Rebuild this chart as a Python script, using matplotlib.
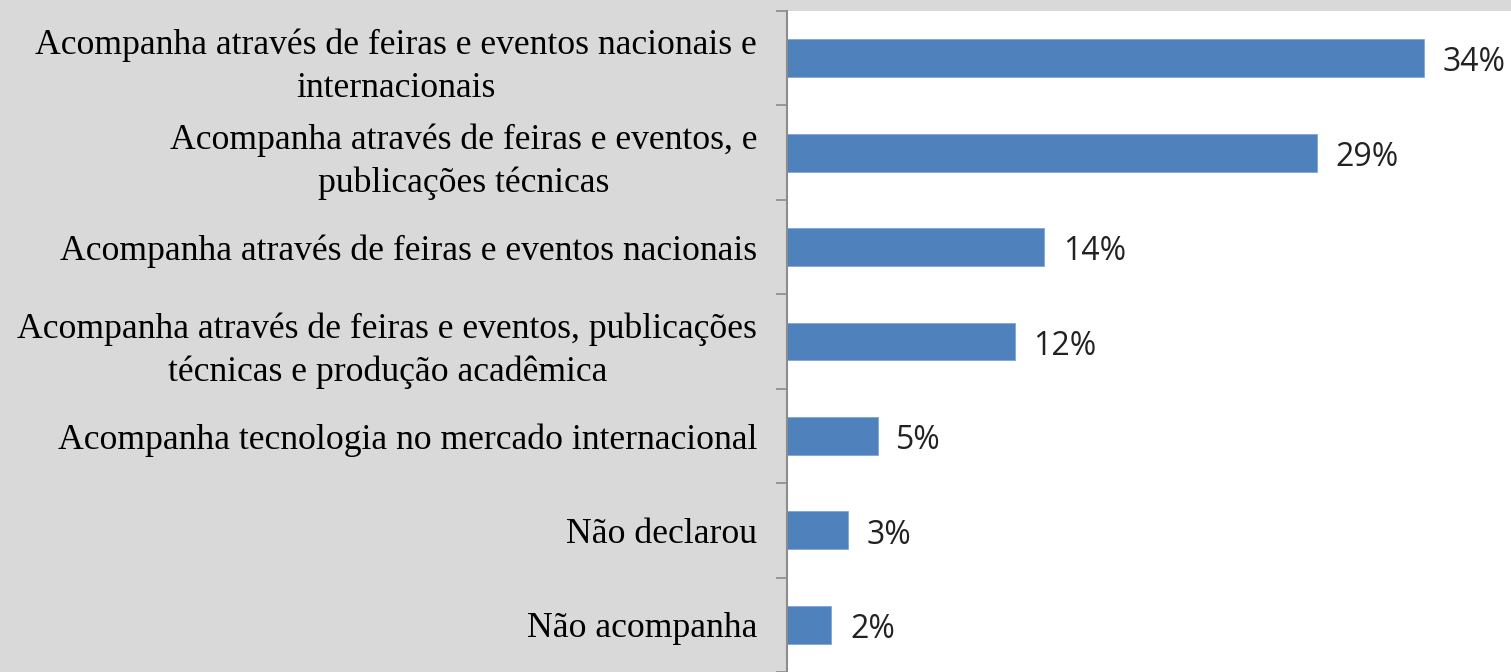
import matplotlib

matplotlib.use("Agg")
import matplotlib.pyplot as plt
import numpy as np

categories = [
    "Acompanha através de feiras e eventos nacionais e\ninternacionais",
    "Acompanha através de feiras e eventos, e\npublicações técnicas",
    "Acompanha através de feiras e eventos nacionais",
    "Acompanha através de feiras e eventos, publicações\ntécnicas e produção acadêmica",
    "Acompanha tecnologia no mercado internacional",
    "Não declarou",
    "Não acompanha",
]
# bar lengths (labels show the rounded figures)
values = [34.4, 28.6, 13.9, 12.3, 4.9, 3.3, 2.4]
value_labels = ["34%", "29%", "14%", "12%", "5%", "3%", "2%"]

bg = "#d9d9d9"
bar_color = "#4f81bd"

fig = plt.figure(figsize=(15.11, 6.72), dpi=100)
fig.patch.set_facecolor(bg)
ax = fig.add_axes([787 / 1511, 0, 1 - 787 / 1511, 1 - 11 / 672])
ax.set_facecolor("white")

n = len(categories)
y = np.arange(n)
ax.barh(y, values, height=0.4, color=bar_color, edgecolor="#7da7d9", linewidth=0.6)
for yi, v, lab in zip(y, values, value_labels):
    ax.text(v + 1.0, yi + 0.05, lab, va="center", ha="left", fontsize=23,
            family="Open Sans", color="#222222")

ax.set_ylim(n - 0.5, -0.5)
ax.set_xlim(0, 39.1)
ax.set_xticks([])
ax.set_yticks(np.arange(n + 1) - 0.5, minor=True)
ax.set_yticks(y)
ax.set_yticklabels(categories, family="Liberation Serif", fontsize=25.7,
                   linespacing=1.38, multialignment="center")
ax.tick_params(axis="y", which="major", length=0, pad=21.5)
ax.tick_params(axis="y", which="minor", length=8, width=1.2, color="#8c8c8c")
for s in ["top", "right", "bottom"]:
    ax.spines[s].set_visible(False)
ax.spines["left"].set_color("#8c8c8c")
ax.spines["left"].set_linewidth(1.5)

plt.savefig("out.png", facecolor=fig.get_facecolor())
plt.close(fig)
